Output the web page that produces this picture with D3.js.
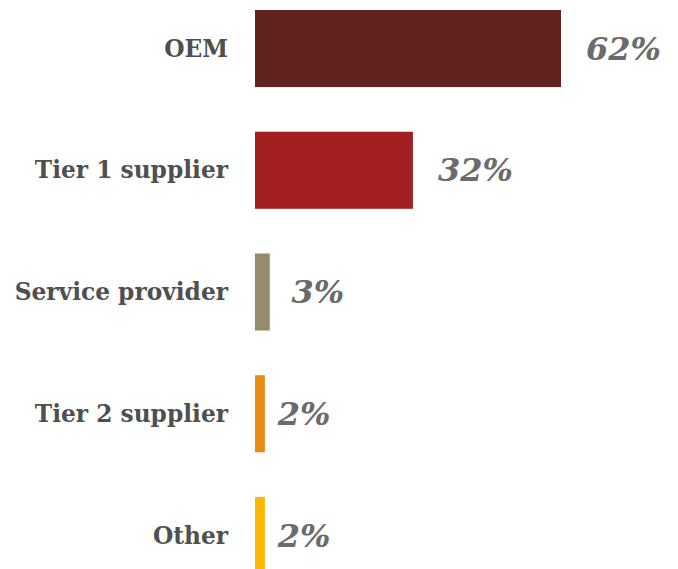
<!DOCTYPE html>
<html>
<head>
<meta charset="utf-8">
<script src="https://cdn.jsdelivr.net/npm/d3@7"></script>
<style>
body { margin: 0; background: #fff; }
</style>
</head>
<body>
<div id="chart"></div>
<script>
// chart data
var categories = ["OEM", "Tier 1 supplier", "Service provider", "Tier 2 supplier", "Other"];
var values = [62, 32, 3, 2, 2];
var valueLabels = ["62%", "32%", "3%", "2%", "2%"];
var colors = ["#602320", "#a32020", "#968c6d", "#e88d14", "#ffb600"];

var w = 678;
var h = 569;

var svg = d3.select("#chart")
            .append("svg")
            .attr("width", w)
            .attr("height", h);

// scales
var x = d3.scaleLinear()
            .domain([0, 62])
            .range([255, 561]);

var y = d3.scaleBand()
            .domain(categories)
            .range([10, 574])
            .paddingInner(0.367)
            .paddingOuter(0);

var rows = categories.map(function(c, i){
    return {cat: c, val: values[i], lab: valueLabels[i], col: colors[i]};
});

// bars
svg.selectAll(".bar")
    .data(rows)
    .enter()
    .append("rect")
    .attr("class", "bar")
    .attr("x", x(0))
    .attr("y", function(d){ return y(d.cat); })
    .attr("width", function(d){ return x(d.val) - x(0); })
    .attr("height", y.bandwidth())
    .attr("fill", function(d){ return d.col; });

// category labels
svg.selectAll(".cat")
    .data(rows)
    .enter()
    .append("text")
    .attr("class", "cat")
    .attr("x", 228)
    .attr("y", function(d){ return y(d.cat) + y.bandwidth()/2; })
    .attr("dy", "0.35em")
    .attr("text-anchor", "end")
    .style("font-family", "'DejaVu Serif', serif")
    .style("font-weight", "bold")
    .style("font-size", "23.3px")
    .style("fill", "#4f4f4f")
    .text(function(d){ return d.cat; });

// value labels (small bars get a tighter gap)
svg.selectAll(".val")
    .data(rows)
    .enter()
    .append("text")
    .attr("class", "val")
    .attr("x", function(d){
        var bw = x(d.val) - x(0);
        return x(d.val) + Math.min(25, 1.8 * bw - 5);
    })
    .attr("y", function(d){ return y(d.cat) + y.bandwidth()/2; })
    .attr("dy", "0.35em")
    .style("font-family", "'DejaVu Serif', serif")
    .style("font-weight", "bold")
    .style("font-style", "italic")
    .style("font-size", "32px")
    .style("fill", "#6b6b6b")
    .text(function(d){ return d.lab; });
</script>
</body>
</html>
